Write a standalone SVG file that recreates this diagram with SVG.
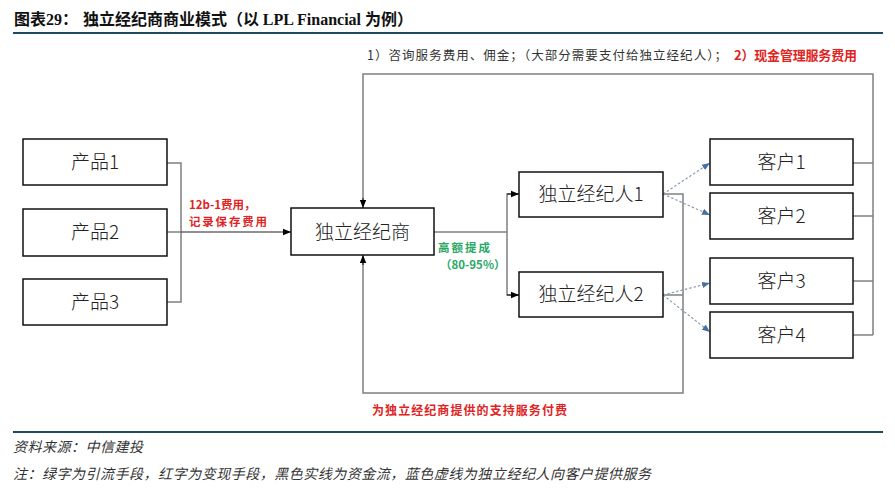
<svg xmlns="http://www.w3.org/2000/svg" width="895" height="492" viewBox="0 0 895 492">
<style>
.title{font-family:"Liberation Serif","Noto Sans CJK SC",serif;font-weight:bold;font-size:16px;fill:#111}
.box{fill:#fff;stroke:#111;stroke-width:1.5}
.bt{font-family:"Noto Sans CJK SC","Noto Sans",sans-serif;font-size:19px;font-weight:300;fill:#222;text-anchor:middle}
.ln{fill:none;stroke:#808080;stroke-width:1.5}
.dl{fill:none;stroke:#8a9bb5;stroke-width:1.2;stroke-dasharray:2.5 2}
.red{font-family:"Noto Sans CJK SC",sans-serif;font-weight:bold;font-size:12px;fill:#e02424}
.sm{font-size:11.5px}
.grn{font-family:"Noto Sans CJK SC",sans-serif;font-weight:bold;font-size:11.5px;fill:#2aa866}
.gry{font-family:"Noto Sans CJK SC",sans-serif;font-size:12.5px;fill:#333}
.ft{font-family:"Noto Sans CJK SC",sans-serif;font-size:14px;fill:#333;font-style:italic}
.rule{stroke:#1f4a63;stroke-width:2}
</style>
<defs>
<marker id="ab" viewBox="0 0 10 10" refX="10" refY="5" markerWidth="8" markerHeight="8" orient="auto" markerUnits="userSpaceOnUse"><path d="M0,1 L10,5 L0,9 z" fill="#000"/></marker>
<marker id="ablue" viewBox="0 0 10 10" refX="10" refY="5" markerWidth="8" markerHeight="8" orient="auto" markerUnits="userSpaceOnUse"><path d="M0,1 L10,5 L0,9 z" fill="#4a6fa5"/></marker>
</defs>
<rect width="895" height="492" fill="#fff"/>
<g id="title">
<text class="title" x="14" y="25">图表29：</text>
<text class="title" x="83" y="25" textLength="330" lengthAdjust="spacingAndGlyphs">独立经纪商商业模式（以 LPL Financial 为例）</text>
<line class="rule" x1="13" y1="33" x2="883" y2="33"/>
</g>
<g id="connectors">
<polyline class="ln" points="167,163 181,163 181,302 167,302"/>
<line class="ln" x1="167" y1="232" x2="181" y2="232"/>
<line x1="181" y1="232" x2="291" y2="232" stroke="#222" stroke-width="1.2" marker-end="url(#ab)"/>
<polyline class="ln" points="434,232 507,232"/>
<polyline points="519,194 507,194 507,295 519,295" fill="none" stroke="#808080" stroke-width="1.5"/>
<line x1="507" y1="194" x2="519" y2="194" stroke="#222" stroke-width="1.2" marker-end="url(#ab)"/>
<line x1="507" y1="295" x2="519" y2="295" stroke="#222" stroke-width="1.2" marker-end="url(#ab)"/>
<polyline class="ln" points="853,163 873,163"/>
<polyline class="ln" points="853,216 873,216"/>
<polyline class="ln" points="853,281 873,281"/>
<polyline class="ln" points="853,335 873,335"/>
<polyline class="ln" points="873,335 873,74 363,74 363,200"/>
<line x1="363" y1="198" x2="363" y2="208" stroke="#222" stroke-width="1.2" marker-end="url(#ab)"/>
<polyline class="ln" points="663,194 683,194 683,393 363,393 363,262"/>
<line class="ln" x1="663" y1="295" x2="683" y2="295"/>
<line x1="363" y1="265" x2="363" y2="255" stroke="#222" stroke-width="1.2" marker-end="url(#ab)"/>
<line class="dl" x1="663" y1="194" x2="710" y2="163" marker-end="url(#ablue)"/>
<line class="dl" x1="663" y1="194" x2="710" y2="215" marker-end="url(#ablue)"/>
<line class="dl" x1="663" y1="295" x2="710" y2="283" marker-end="url(#ablue)"/>
<line class="dl" x1="663" y1="295" x2="710" y2="332" marker-end="url(#ablue)"/>
</g>
<g id="p1"><rect class="box" x="23" y="139" width="144" height="46"/><text class="bt" x="95" y="169">产品1</text></g>
<g id="p2"><rect class="box" x="23" y="209" width="144" height="47"/><text class="bt" x="95" y="239">产品2</text></g>
<g id="p3"><rect class="box" x="23" y="279" width="144" height="46"/><text class="bt" x="95" y="309">产品3</text></g>
<g id="ibd"><rect class="box" x="291" y="208" width="143" height="47"/><text class="bt" x="362.5" y="238.5">独立经纪商</text></g>
<g id="a1"><rect class="box" x="519" y="172" width="144" height="45"/><text class="bt" x="591" y="201">独立经纪人1</text></g>
<g id="a2"><rect class="box" x="519" y="272" width="144" height="45"/><text class="bt" x="591" y="301">独立经纪人2</text></g>
<g id="c1"><rect class="box" x="710" y="139" width="143" height="46"/><text class="bt" x="781.5" y="169">客户1</text></g>
<g id="c2"><rect class="box" x="710" y="193" width="143" height="46"/><text class="bt" x="781.5" y="223">客户2</text></g>
<g id="c3"><rect class="box" x="710" y="258" width="143" height="46"/><text class="bt" x="781.5" y="288">客户3</text></g>
<g id="c4"><rect class="box" x="710" y="312" width="143" height="46"/><text class="bt" x="781.5" y="342">客户4</text></g>
<g id="labels">
<text class="gry" x="367" y="60" textLength="360" lengthAdjust="spacing">1）咨询服务费用、佣金；（大部分需要支付给独立经纪人）；</text>
<text class="red" x="734" y="60" style="font-size:13px" textLength="123">2）现金管理服务费用</text>
<text class="red sm"><tspan x="189" y="208.5">12b-1费用，</tspan><tspan x="189" y="225.5" textLength="78">记录保存费用</tspan></text>
<text class="grn"><tspan x="438" y="252" textLength="52">高额提成</tspan><tspan x="440" y="269">（80-95%）</tspan></text>
<text class="red" x="372" y="415" textLength="195">为独立经纪商提供的支持服务付费</text>
</g>
<g id="footer">
<line class="rule" x1="13" y1="432" x2="883" y2="432"/>
<text class="ft" x="13" y="452" textLength="130">资料来源：中信建投</text>
<text class="ft" x="13" y="479" textLength="638">注：绿字为引流手段，红字为变现手段，黑色实线为资金流，蓝色虚线为独立经纪人向客户提供服务</text>
</g>
</svg>
